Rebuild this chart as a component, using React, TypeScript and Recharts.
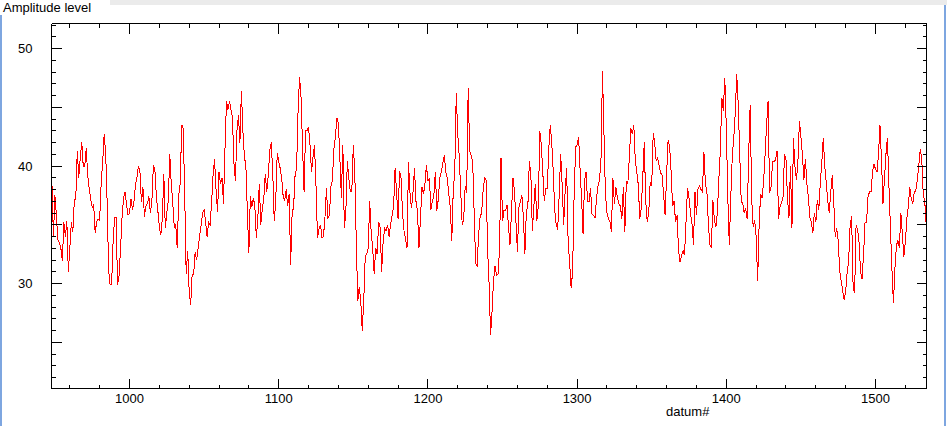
import React from 'react';
import { LineChart, Line, XAxis, YAxis } from 'recharts';

// amplitude per datum#, one block per hundred
const amp0948 = [
  38.6, 34.0, 37.5, 35.8, 33.7, 33.5, 33.0, 31.9, 35.2, 34.0,
  35.3, 31.0, 33.0, 35.2, 34.4, 37.0, 37.3, 41.3, 39.0, 40.7,
  42.0, 40.0, 40.0, 41.5, 39.2, 38.1, 37.2, 36.5, 36.7, 34.3,
  35.3, 35.5, 35.4, 38.5, 40.3, 42.7, 41.2, 37.0, 31.2, 29.9,
  29.9, 33.5, 35.6, 35.6, 29.9, 30.7, 33.0, 35.6, 37.3, 37.8,
  36.8, 35.8,
];
const amp1000 = [
  36.0, 37.2, 36.3, 37.0, 38.4, 39.0, 40.0, 39.5, 36.9, 38.2,
  35.7, 36.6, 36.8, 37.4, 36.0, 37.0, 40.1, 39.7, 37.4, 36.2,
  34.8, 34.1, 35.5, 39.3, 34.7, 36.0, 37.1, 41.0, 38.5, 36.8,
  34.8, 35.0, 33.0, 37.5, 38.5, 43.5, 43.2, 37.5, 30.8, 32.8,
  29.3, 28.2, 30.8, 30.8, 32.7, 32.0, 33.0, 34.0, 35.0, 36.0,
  36.3, 35.2, 34.0, 35.2, 35.0, 36.8, 39.2, 40.6, 38.0, 36.1,
  39.5, 38.5, 39.0, 36.8, 41.5, 45.5, 44.8, 45.5, 44.8, 44.2,
  40.2, 38.7, 43.0, 44.3, 42.0, 46.4, 43.0, 40.8, 40.0, 36.1,
  32.6, 37.4, 36.5, 37.3, 36.6, 33.9, 35.5, 38.5, 35.0, 36.3,
  37.2, 39.3, 37.8, 39.2, 41.3, 42.0, 39.5, 35.3, 37.0, 41.1,
];
const amp1100 = [
  40.4, 39.8, 39.0, 37.4, 37.1, 38.0, 36.6, 37.6, 31.6, 36.0,
  36.5, 39.3, 39.8, 44.8, 47.6, 45.8, 41.5, 37.8, 43.0, 43.0,
  43.3, 41.8, 39.5, 40.8, 41.8, 38.3, 33.9, 34.6, 35.0, 33.9,
  34.0, 35.6, 38.1, 35.6, 35.8, 38.3, 38.8, 41.5, 42.5, 44.1,
  43.6, 40.7, 37.3, 41.8, 34.7, 36.1, 40.4, 39.0, 37.8, 37.8,
  41.8, 39.5, 33.5, 28.5, 29.7, 28.5, 26.0, 28.5, 32.3, 32.5,
  33.0, 37.0, 34.3, 33.0, 30.8, 33.0, 32.5, 35.2, 34.8, 31.0,
  33.6, 34.7, 34.5, 35.0, 34.0, 35.0, 35.8, 36.5, 39.8, 37.8,
  35.5, 39.6, 39.0, 36.0, 34.5, 33.8, 33.0, 40.3, 37.7, 36.4,
  37.7, 39.8, 37.0, 36.2, 33.0, 35.5, 38.2, 37.6, 38.4, 40.1,
];
const amp1200 = [
  38.7, 39.0, 36.3, 37.0, 37.5, 39.5, 36.2, 37.2, 39.0, 39.5,
  40.3, 40.9, 39.5, 39.0, 37.6, 36.5, 33.6, 38.0, 39.4, 46.2,
  42.7, 40.8, 37.8, 35.0, 35.5, 38.3, 37.7, 46.6, 41.3, 40.9,
  40.4, 36.0, 31.7, 31.5, 34.2, 35.7, 36.0, 37.9, 39.0, 38.8,
  33.0, 30.0, 25.6, 27.6, 30.3, 31.5, 30.7, 30.8, 32.8, 40.7,
  35.3, 36.2, 36.2, 36.7, 34.8, 33.3, 36.0, 39.0, 37.9, 35.3,
  32.7, 36.5, 37.0, 37.5, 35.6, 32.5, 36.2, 36.6, 40.4, 39.3,
  34.5, 36.5, 38.5, 35.3, 36.6, 43.0, 41.8, 39.5, 37.0, 38.1,
  38.1, 41.4, 43.5, 42.0, 39.6, 36.2, 35.0, 34.6, 37.6, 41.0,
  38.4, 35.0, 37.9, 39.8, 33.5, 31.8, 29.6, 31.0, 37.5, 41.6,
];
const amp1300 = [
  41.8, 42.5, 39.7, 37.2, 34.2, 38.8, 39.5, 37.0, 37.0, 38.1,
  35.9, 35.8, 35.6, 37.2, 38.3, 38.8, 40.5, 48.1, 42.8, 37.6,
  36.0, 35.5, 35.3, 34.4, 39.0, 36.8, 38.2, 37.3, 36.8, 36.6,
  35.5, 38.2, 34.4, 38.7, 38.5, 40.7, 43.2, 42.7, 43.5, 40.5,
  39.5, 38.4, 35.5, 36.4, 39.0, 42.0, 37.0, 35.2, 36.0, 38.6,
  38.3, 42.8, 42.0, 40.4, 40.7, 40.0, 39.4, 39.2, 37.5, 35.8,
  39.3, 42.2, 41.7, 39.5, 36.6, 37.0, 35.2, 35.8, 32.8, 31.8,
  32.4, 32.8, 32.4, 35.3, 38.1, 37.3, 36.0, 35.1, 33.3, 37.8,
  35.8, 38.0, 38.3, 38.0, 37.8, 41.2, 38.5, 37.8, 35.0, 33.3,
  33.0, 37.1, 35.4, 34.8, 36.0, 38.9, 41.3, 45.8, 44.7, 47.5,
];
const amp1400 = [
  43.3, 37.4, 33.3, 37.3, 40.8, 42.4, 44.5, 47.8, 45.2, 41.1,
  37.0, 36.8, 36.0, 36.4, 35.5, 41.0, 45.2, 37.3, 34.8, 35.4,
  34.0, 30.2, 35.0, 37.6, 37.3, 38.7, 41.0, 43.5, 45.5, 37.7,
  38.2, 40.4, 40.4, 40.5, 41.3, 35.5, 36.5, 36.9, 37.3, 41.0,
  40.6, 37.3, 35.6, 40.0, 34.7, 42.4, 40.0, 38.8, 40.4, 43.8,
  42.5, 41.0, 38.8, 40.6, 38.5, 37.3, 35.6, 35.2, 34.3, 36.0,
  35.2, 37.1, 36.3, 38.6, 40.3, 42.4, 40.0, 38.6, 37.0, 36.0,
  37.8, 39.2, 37.0, 34.0, 34.7, 33.7, 31.1, 30.2, 29.4, 28.6,
  29.3, 31.0, 31.9, 35.0, 35.7, 29.7, 29.2, 35.0, 34.6, 33.5,
  31.0, 30.4, 32.5, 35.2, 35.2, 37.4, 37.8, 37.8, 39.5, 40.2,
];
const amp1500 = [
  39.7, 39.5, 41.0, 43.5, 40.6, 36.8, 38.9, 41.0, 42.4, 38.3,
  34.7, 31.3, 28.3, 31.2, 33.2, 33.7, 33.0, 36.0, 34.2, 32.3,
  33.5, 35.5, 36.6, 38.2, 37.2, 36.8, 37.8, 37.9, 38.8, 40.0,
  41.4, 40.6, 37.6, 37.0, 35.0,
];

const blockStarts = [948, 1000, 1100, 1200, 1300, 1400, 1500];
const blocks = [amp0948, amp1000, amp1100, amp1200, amp1300, amp1400, amp1500];

const xTicks = [
  960, 980, 1000, 1020, 1040, 1060, 1080, 1100, 1120, 1140, 1160, 1180,
  1200, 1220, 1240, 1260, 1280, 1300, 1320, 1340, 1360, 1380, 1400, 1420,
  1440, 1460, 1480, 1500, 1520,
];
const yTicks = [
  22, 23, 24, 25, 26, 27, 28, 29, 30, 31, 32, 33, 34, 35, 36, 37, 38, 39,
  40, 41, 42, 43, 44, 45, 46, 47, 48, 49, 50, 51, 52,
];
const xDomain: [number, number] = [947.72, 1534.18];
const yDomain: [number, number] = [21.064, 52.128];

const chartData = blocks.flatMap((vals, b) =>
  vals.map((v, i) => ({ datum: blockStarts[b] + i, amp: v }))
);

const FONT = '"Liberation Sans", Arial, sans-serif';
const textProps = { fontFamily: FONT, fontSize: 13, fill: '#000' };

function BottomTick({ x, y, payload }: any) {
  const v = payload.value;
  const major = v % 100 === 0;
  return (
    <g>
      <line x1={x} x2={x} y1={y} y2={y - (major ? 10 : 4)} stroke="#000" shapeRendering="crispEdges" />
      {major && (
        <text x={x} y={y + 14.5} textAnchor="middle" {...textProps}>{v}</text>
      )}
    </g>
  );
}

function TopTick({ x, y, payload }: any) {
  const major = payload.value % 100 === 0;
  return <line x1={x} x2={x} y1={y} y2={y + (major ? 10 : 4)} stroke="#000" shapeRendering="crispEdges" />;
}

function LeftTick({ x, y, payload }: any) {
  const v = payload.value;
  const major = v % 5 === 0;
  return (
    <g>
      <line x1={x} x2={x + (major ? 10 : 4)} y1={y} y2={y} stroke="#000" shapeRendering="crispEdges" />
      {v % 10 === 0 && (
        <text x={x - 19} y={y + 4.8} textAnchor="end" {...textProps}>{v}</text>
      )}
    </g>
  );
}

function RightTick({ x, y, payload }: any) {
  const major = payload.value % 5 === 0;
  return <line x1={x} x2={x - (major ? 10 : 4)} y1={y} y2={y} stroke="#000" shapeRendering="crispEdges" />;
}

export default function App() {
  return (
    <div style={{ position: 'absolute', left: 0, top: 0, width: 947, height: 426, background: '#fff', overflow: 'hidden' }}>
      <style>{'.recharts-line-curve, .recharts-cartesian-axis-line { shape-rendering: crispEdges; }'}</style>
      <div style={{ position: 'absolute', left: 110, top: 0, width: 837, height: 5, background: '#ebebeb' }} />
      <div style={{ position: 'absolute', left: 0, top: 15, width: 2, height: 411, background: '#7ea6e0' }} />
      <div style={{ position: 'absolute', left: 944, top: 5, width: 2, height: 421, background: '#7ea6e0' }} />
      <div style={{ position: 'absolute', left: 3, top: 0, fontFamily: FONT, fontSize: 13, lineHeight: '16px', color: '#000' }}>
        Amplitude level
      </div>
      <div style={{ position: 'absolute', left: 666, top: 404, fontFamily: FONT, fontSize: 13, lineHeight: '16px', color: '#000' }}>
        datum#
      </div>
      <LineChart
        width={947}
        height={426}
        data={chartData}
        margin={{ top: 22.5, right: 19.5, bottom: 36.5, left: 50.5 }}
      >
        <XAxis
          dataKey="datum"
          type="number"
          domain={xDomain}
          ticks={xTicks}
          interval={0}
          allowDataOverflow
          height={1}
          tickSize={0}
          tickMargin={0}
          tickLine={false}
          axisLine={{ stroke: '#000' }}
          tick={(p: any) => <BottomTick {...p} />}
        />
        <XAxis
          xAxisId="top"
          orientation="top"
          dataKey="datum"
          type="number"
          domain={xDomain}
          ticks={xTicks}
          interval={0}
          allowDataOverflow
          height={1}
          tickSize={0}
          tickMargin={0}
          tickLine={false}
          axisLine={{ stroke: '#000' }}
          tick={(p: any) => <TopTick {...p} />}
        />
        <YAxis
          type="number"
          domain={yDomain}
          ticks={yTicks}
          interval={0}
          allowDataOverflow
          width={1}
          tickSize={0}
          tickMargin={0}
          tickLine={false}
          axisLine={{ stroke: '#000' }}
          tick={(p: any) => <LeftTick {...p} />}
        />
        <YAxis
          yAxisId="right"
          orientation="right"
          type="number"
          domain={yDomain}
          ticks={yTicks}
          interval={0}
          allowDataOverflow
          width={1}
          tickSize={0}
          tickMargin={0}
          tickLine={false}
          axisLine={{ stroke: '#000' }}
          tick={(p: any) => <RightTick {...p} />}
        />
        <Line
          dataKey="amp"
          type="linear"
          stroke="#ff0000"
          strokeWidth={1}
          dot={false}
          activeDot={false}
          isAnimationActive={false}
        />
      </LineChart>
    </div>
  );
}
